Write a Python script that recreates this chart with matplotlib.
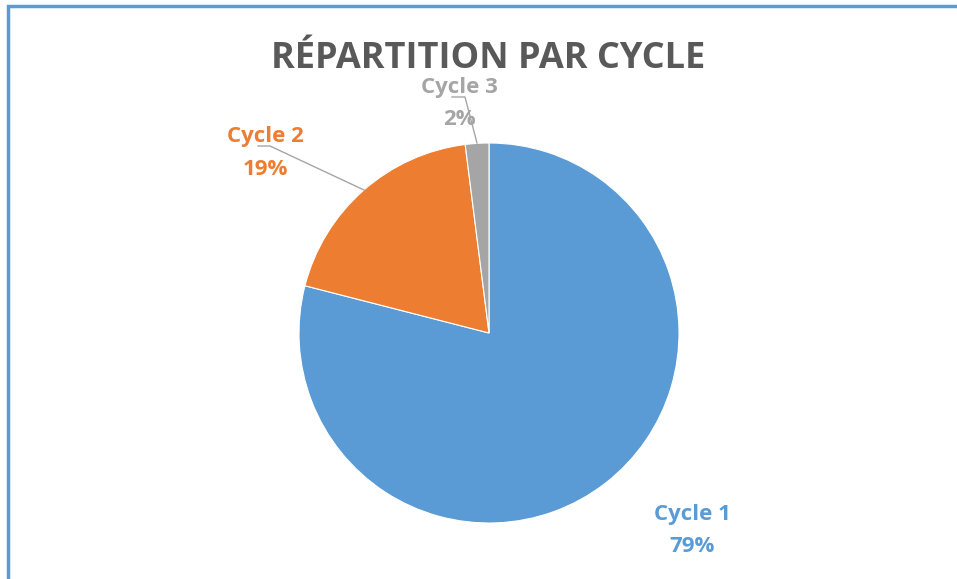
import matplotlib.pyplot as plt
from matplotlib.patches import Rectangle

labels = ['Cycle 1', 'Cycle 2', 'Cycle 3']
values = [79, 19, 2]
colors = ['#5B9BD5', '#ED7D31', '#A5A5A5']
pct_labels = ['79%', '19%', '2%']

plt.rcParams['font.family'] = ['Open Sans', 'DejaVu Sans']

fig = plt.figure(figsize=(9.57, 5.79), dpi=100)

# blue frame around the chart area
fig.patches.append(Rectangle((8 / 957, -0.01), 1.0, 1 - 6 / 579 + 0.01,
                             transform=fig.transFigure, fill=False,
                             edgecolor='#5B9BD5', linewidth=2.5))

# pie axes: center (489, 333) px, radius 190 px
W, H = 957, 579
cx, cy, r = 489, 333, 190
ax = fig.add_axes([(cx - r) / W, (H - cy - r) / H, 2 * r / W, 2 * r / H])
ax.pie(values, colors=colors, startangle=90, counterclock=False,
       wedgeprops=dict(linewidth=0.8, edgecolor='white'))
ax.set_xlim(-1, 1)
ax.set_ylim(-1, 1)
ax.set_aspect('equal')
ax.axis('off')


def px(x, y):
    return (x - cx) / r, (cy - y) / r


# label positions in pixels: center x, baseline of name, baseline of percent
label_pos = [(692, 520, 552), (265, 142, 175), (459, 93, 125)]
for lab, pct, col, (x, y1, y2) in zip(labels, pct_labels, colors, label_pos):
    for s, y in ((lab, y1), (pct, y2)):
        tx, ty = px(x, y)
        ax.text(tx, ty, s, color=col, fontsize=16, fontweight='bold',
                ha='center', va='baseline', clip_on=False)

# leader lines
lines = [
    [(258, 146), (270, 146), (364, 190)],
    [(452, 97), (465, 97), (477, 143)],
]
for pts in lines:
    xs, ys = zip(*[px(x, y) for x, y in pts])
    ax.plot(xs, ys, color='#A5A5A5', linewidth=1, clip_on=False)

fig.text(488 / W, 1 - 68 / H, 'RÉPARTITION PAR CYCLE', color='#595959',
         fontsize=26, fontweight='bold', ha='center', va='baseline')

fig.savefig('out.png', dpi=100)
